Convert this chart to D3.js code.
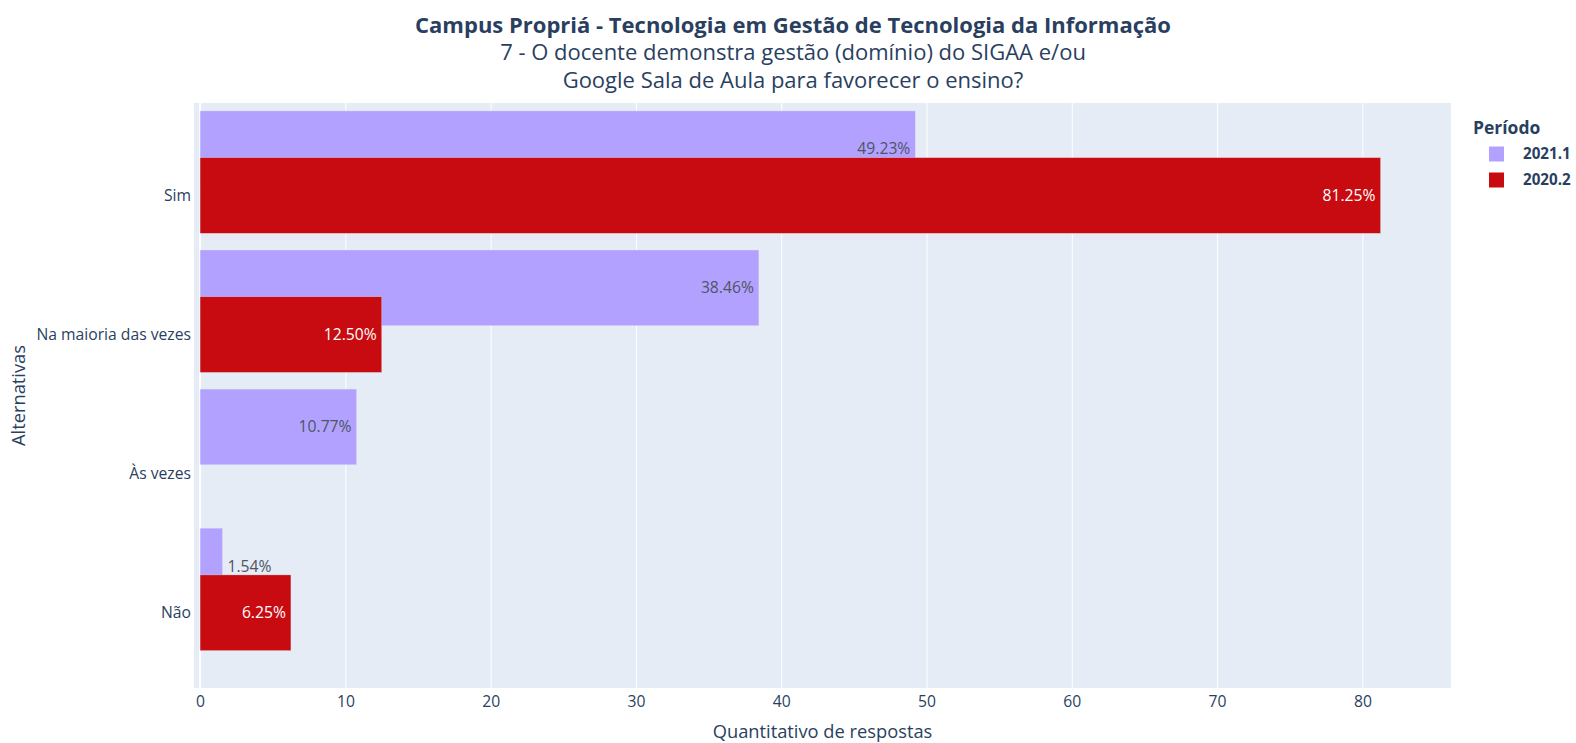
<!DOCTYPE html>
<html>
<head>
  <meta charset="utf-8">
  <title>Campus Propriá - 7</title>
  <script src="https://cdn.jsdelivr.net/npm/d3@7"></script>
  <style>
    body { margin: 0; background: #fff; font-family: "Open Sans", sans-serif; }
    text { font-family: "Open Sans", sans-serif; fill: #2a3f5f; }
    .grid line { stroke: #fff; stroke-width: 1; }
    .grid .domain { display: none; }
  </style>
</head>
<body>
<script>
  // data (percent of answers)
  var alternativas = ["Sim", "Na maioria das vezes", "Às vezes", "Não"];
  var periodos = ["2021.1", "2020.2"];
  var v2021 = [49.23, 38.46, 10.77, 1.54];
  var v2020 = [81.25, 12.50, null, 6.25];
  var xTicks = [0, 10, 20, 30, 40, 50, 60, 70, 80];
  var cores = { "2021.1": "#b3a1ff", "2020.2": "#c80b10" };

  var W = 1576, H = 743;
  var plot = { left: 194, right: 1451, top: 103, bottom: 688 };
  var fs = 15.7; // base font size

  var svg = d3.select("body").append("svg")
      .attr("width", W).attr("height", H);

  var x = d3.scaleLinear().domain([-0.42, 86.1]).range([plot.left, plot.right]);
  // category index -> pixel (Sim on top)
  var y = d3.scaleLinear().domain([-0.665, 3.541]).range([plot.top, plot.bottom]);
  var step = y(1) - y(0);
  var barH = 0.544 * step;
  var offset = { "2021.1": -0.336 * step, "2020.2": 0 };

  // background
  svg.append("rect")
      .attr("x", plot.left).attr("y", plot.top)
      .attr("width", plot.right - plot.left).attr("height", plot.bottom - plot.top)
      .attr("fill", "#e5ecf6");

  // vertical grid
  svg.append("g")
      .attr("class", "grid")
      .attr("transform", "translate(0," + plot.bottom + ")")
      .call(d3.axisBottom(x).tickValues(xTicks.slice(1)).tickSize(-(plot.bottom - plot.top)).tickFormat(""));

  // zero line
  svg.append("line")
      .attr("x1", x(0)).attr("x2", x(0))
      .attr("y1", plot.top).attr("y2", plot.bottom)
      .attr("stroke", "#fff").attr("stroke-width", 2);

  // x axis labels
  var xAxis = svg.append("g")
      .attr("transform", "translate(0," + plot.bottom + ")")
      .call(d3.axisBottom(x).tickValues(xTicks).tickSize(0).tickPadding(0));
  xAxis.select(".domain").remove();
  xAxis.selectAll("text")
      .attr("y", 19).attr("dy", null)
      .style("font-size", fs + "px").attr("fill", "#2a3f5f");

  // y axis labels
  svg.append("g").selectAll("text")
      .data(alternativas)
    .enter().append("text")
      .attr("x", plot.left - 3)
      .attr("y", function(d, i) { return y(i); })
      .attr("dy", "0.35em")
      .attr("text-anchor", "end")
      .style("font-size", fs + "px")
      .text(function(d) { return d; });

  // bars: 2021.1 first, 2020.2 drawn over it
  var series = [
    { nome: "2021.1", vals: v2021 },
    { nome: "2020.2", vals: v2020 }
  ];

  function linhas(s) {
    return s.vals.map(function(v, i) { return { i: i, v: v }; })
        .filter(function(d) { return d.v != null; });
  }

  series.forEach(function(s) {
    svg.append("g").selectAll("rect")
        .data(linhas(s))
      .enter().append("rect")
        .attr("x", x(0))
        .attr("y", function(d) { return y(d.i) + offset[s.nome] - barH / 2; })
        .attr("width", function(d) { return x(d.v) - x(0); })
        .attr("height", barH)
        .attr("fill", cores[s.nome])
        .attr("stroke", "rgba(229,236,246,0.6)")
        .attr("stroke-width", 0.5);
  });

  // bar texts (drawn after all bars)
  series.forEach(function(s) {
    svg.append("g").selectAll("text")
        .data(linhas(s))
      .enter().append("text")
        .attr("x", function(d) { return d.v < 3 ? x(d.v) + 5 : x(d.v) - 5; })
        .attr("y", function(d) { return y(d.i) + offset[s.nome]; })
        .attr("dy", "0.35em")
        .attr("text-anchor", function(d) { return d.v < 3 ? "start" : "end"; })
        .style("font-size", fs + "px")
        .style("fill", function(d) { return s.nome == "2020.2" ? "#fff" : "#4d5663"; })
        .text(function(d) { return d.v.toFixed(2) + "%"; });
  });

  // titles
  var cx = 793;
  svg.append("text")
      .attr("x", cx).attr("y", 33)
      .attr("text-anchor", "middle")
      .style("font-size", "22px").style("font-weight", "bold")
      .text("Campus Propriá - Tecnologia em Gestão de Tecnologia da Informação");
  svg.append("text")
      .attr("x", cx).attr("y", 60)
      .attr("text-anchor", "middle")
      .style("font-size", "22px")
      .text("7 - O docente demonstra gestão (domínio) do SIGAA e/ou");
  svg.append("text")
      .attr("x", cx).attr("y", 88)
      .attr("text-anchor", "middle")
      .style("font-size", "22px")
      .text("Google Sala de Aula para favorecer o ensino?");

  // axis titles
  svg.append("text")
      .attr("x", (plot.left + plot.right) / 2).attr("y", 738)
      .attr("text-anchor", "middle")
      .style("font-size", "18.3px")
      .text("Quantitativo de respostas");
  svg.append("text")
      .attr("transform", "translate(25," + (plot.top + plot.bottom) / 2 + ") rotate(-90)")
      .attr("text-anchor", "middle")
      .style("font-size", "18.3px")
      .text("Alternativas");

  // legend
  var leg = svg.append("g");
  leg.append("text")
      .attr("x", 1473).attr("y", 128)
      .attr("dy", "0.35em")
      .style("font-size", "17.5px").style("font-weight", "bold")
      .text("Período");
  periodos.forEach(function(p, k) {
    var yy = 154 + k * 26;
    leg.append("rect")
        .attr("x", 1489).attr("y", yy - 7.5)
        .attr("width", 15).attr("height", 15)
        .attr("fill", cores[p]);
    leg.append("text")
        .attr("x", 1523).attr("y", yy)
        .attr("dy", "0.35em")
        .style("font-size", "15.2px").style("font-weight", "bold")
        .text(p);
  });
</script>
</body>
</html>
